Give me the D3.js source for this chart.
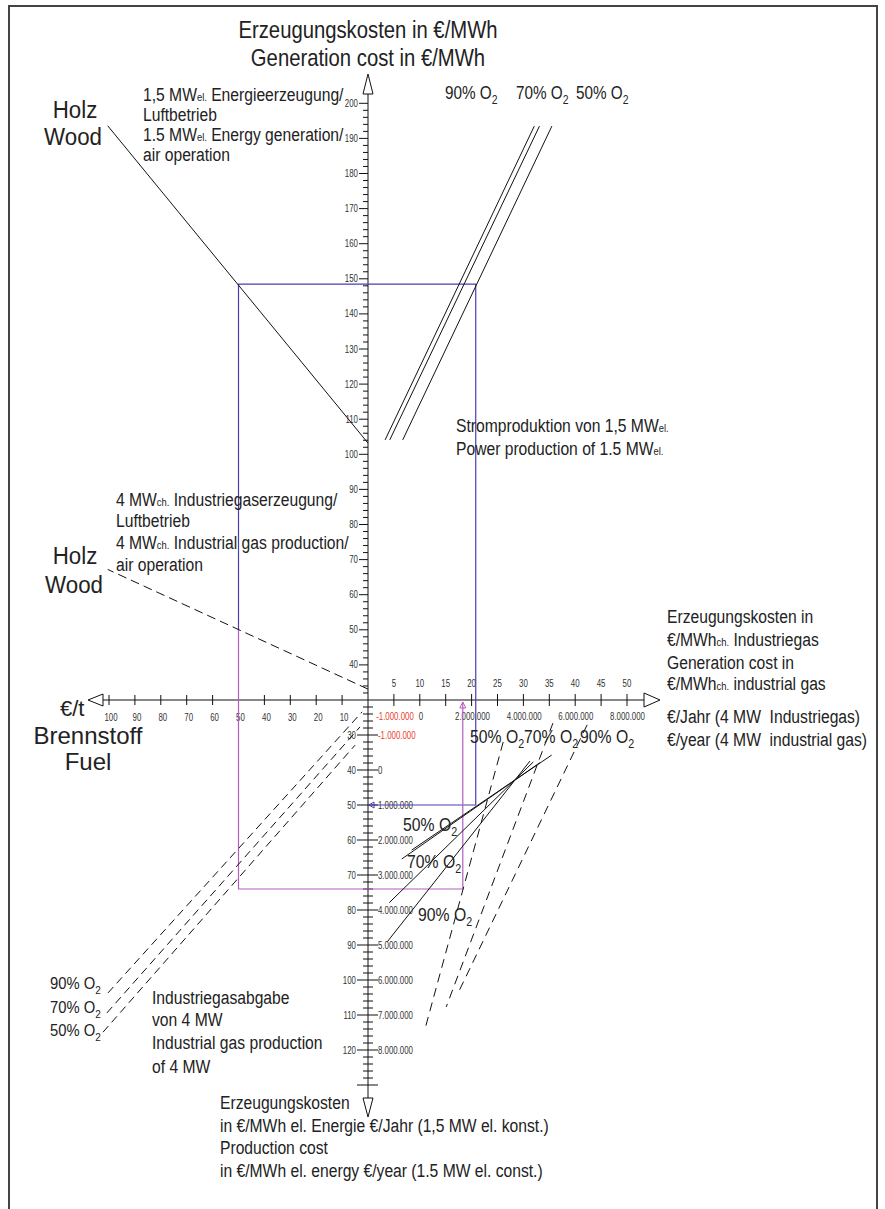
<!DOCTYPE html>
<html>
<head>
<meta charset="utf-8">
<script src="https://cdn.jsdelivr.net/npm/d3@7"></script>
<style>
body { margin: 0; background: #fff; }
svg text { fill: #222; white-space: pre; }
</style>
</head>
<body>
<div id="chart"></div>
<script>
// ---- data ----
const costUpTicks = [40, 50, 60, 70, 80, 90, 100, 110, 120, 130, 140, 150, 160, 170, 180, 190, 200];
const costDownTicks = [30, 40, 50, 60, 70, 80, 90, 100, 110, 120];
const yearElTicks = [-1000000, 0, 1000000, 2000000, 3000000, 4000000, 5000000, 6000000, 7000000, 8000000];
const fuelTicks = [10, 20, 30, 40, 50, 60, 70, 80, 90, 100];
const gasTicks = [5, 10, 15, 20, 25, 30, 35, 40, 45, 50];
const yearGasTicks = [-1000000, 0, 2000000, 4000000, 6000000, 8000000];

// wood price (€/t) -> generation cost
const woodElec = [[0, 103.2], [100.5, 193.6]];
const woodGas = [[0, 33.1], [100.5, 67.2]];
// power production 90/70/50 % O2 (upper right)
const powerLines = [
  [[3.3, 104.1], [32.1, 193.5]],
  [[4.2, 104.1], [33.1, 193.5]],
  [[6.7, 104.1], [35.5, 193.5]]
];
// industrial gas €/year, lower right (dashed)
const gasYearLines = [
  [[26.1, 32.0], [11.0, 114.0]],
  [[35.7, 26.6], [15.1, 107.7]],
  [[42.3, 27.1], [17.2, 104.3]]
];
// industrial gas cost, lower right (solid)
const gasCostLines = [
  [[8.44, 62.86], [35.46, 35.74]],
  [[6.51, 65.43], [33.2, 37.9]],
  [[4.11, 77.9], [31.9, 37.7]],
  [[3.73, 89.06], [31.27, 37.43]]
];
// industrial gas output, lower left (dashed)
const gasFuelLines = [
  [[100.4, 103.7], [2.3, 23.4]],
  [[100.8, 109.4], [3.1, 27.7]],
  [[102.3, 114.9], [5.0, 32.9]]
];
// worked example
const pickFuel = 50;
const pickCostUp = 148.5;
const pickGasUp = 50.2;
const pickPowerX = 20.8;
const pickYear = 1000000;
const pickGasDown = 74;
const pickGasX = 18.3;

// ---- setup ----
const W = 885, H = 1209;
const svg = d3.select("#chart").append("svg").attr("width", W).attr("height", H);
const sans = "'Liberation Sans', Arial, sans-serif";
const x0 = 368, y0 = 700;

const xFuel = d3.scaleLinear().domain([0, 100]).range([x0, 109]);
const xGas = d3.scaleLinear().domain([0, 50]).range([x0, 627]);
const xYear = d3.scaleLinear().domain([-1000000, 8000000]).range([395, 627.5]);
const yUp = d3.scaleLinear().domain([30, 200]).range([y0, 103.3]);
const yDown = d3.scaleLinear().domain([20, 120]).range([y0, 1050]);
const yYear = d3.scaleLinear().domain([-1000000, 8000000]).range([yDown(30), yDown(120)]);

const de = d3.formatLocale({decimal: ",", thousands: ".", grouping: [3], currency: ["", "€"], minus: "-"});
const fmtEuro = de.format(",d");

// frame
svg.append("rect").attr("x", 9).attr("y", 6).attr("width", 868).attr("height", 1240)
  .attr("fill", "none").attr("stroke", "#444").attr("stroke-width", 2);

// text with _{sub} and ^{small} parts, squeezed horizontally by sx
function richText(x, y, str, size, sx, anchor) {
  const t = svg.append("text")
    .attr("transform", `translate(${x},${y}) scale(${sx},1)`)
    .attr("font-size", size).attr("font-family", sans)
    .attr("text-anchor", anchor || "start");
  const parts = str.split(/(_\{[^}]*\}|\^\{[^}]*\})/);
  let shift = 0;
  parts.forEach(p => {
    if (!p) return;
    if (p.startsWith("_{")) {
      t.append("tspan").attr("font-size", size * 0.68).attr("dy", size * 0.28 - shift).text(p.slice(2, -1));
      shift = size * 0.28;
    } else if (p.startsWith("^{")) {
      t.append("tspan").attr("font-size", size * 0.6).attr("dy", -shift).text(p.slice(2, -1));
      shift = 0;
    } else {
      t.append("tspan").attr("dy", -shift).text(p);
      shift = 0;
    }
  });
  return t;
}

function tickLabels(data, px, py, fmt, anchor, color) {
  svg.append("g").selectAll("text").data(data).join("text")
    .attr("transform", d => `translate(${px(d)},${py(d)}) scale(0.75,1)`)
    .attr("text-anchor", anchor).attr("font-size", 10.5).attr("font-family", sans)
    .style("fill", d => color ? color(d) : "#333")
    .text(fmt);
}

const line = d3.line();

// ---- axes ----
const axes = svg.append("g").attr("stroke", "#111").attr("stroke-width", 1).attr("fill", "none");
axes.append("line").attr("x1", x0).attr("x2", x0).attr("y1", 94).attr("y2", 1098);
axes.append("line").attr("x1", 103).attr("x2", 644).attr("y1", y0).attr("y2", y0);

// arrows (open triangles)
const arrows = [
  [[x0 - 5, 94], [x0 + 5, 94], [x0, 74]],
  [[x0 - 5, 1098], [x0 + 5, 1098], [x0, 1117]],
  [[103, y0 - 6], [103, y0 + 6], [88, y0]],
  [[644, y0 - 7], [644, y0 + 7], [660, y0]]
];
axes.selectAll("path.arrow").data(arrows).join("path")
  .attr("d", d => line(d) + "Z").attr("fill", "#fff");

// upper vertical scale: ticks on the left only
const upMinor = d3.range(32, 200, 2).filter(v => v % 10 !== 0);
axes.append("g").selectAll("line").data(upMinor).join("line")
  .attr("x1", x0 - 5).attr("x2", x0).attr("y1", d => yUp(d)).attr("y2", d => yUp(d));
axes.append("g").selectAll("line").data(costUpTicks).join("line")
  .attr("x1", x0 - 9).attr("x2", x0).attr("y1", d => yUp(d)).attr("y2", d => yUp(d));
tickLabels(costUpTicks, () => x0 - 10, d => yUp(d) + 3.5, d => d, "end");

// lower vertical scale: cross ticks
const downMinor = d3.range(22, 130, 2).filter(v => v % 10 !== 0);
axes.append("g").selectAll("line").data(downMinor).join("line")
  .attr("x1", x0 - 5).attr("x2", x0 + 5).attr("y1", d => yDown(d)).attr("y2", d => yDown(d));
axes.append("g").selectAll("line").data(costDownTicks.concat([130])).join("line")
  .attr("x1", x0 - 11).attr("x2", x0 + 10).attr("y1", d => yDown(d)).attr("y2", d => yDown(d));
tickLabels(costDownTicks, () => x0 - 12, d => yDown(d) + 3.5, d => d, "end");
tickLabels(yearElTicks, () => x0 + 10, d => yYear(d) + 3.5, d => fmtEuro(d), "start",
  d => d < 0 ? "#e8412c" : "#333");

// horizontal scales
axes.append("g").selectAll("line").data(fuelTicks).join("line")
  .attr("x1", d => xFuel(d)).attr("x2", d => xFuel(d)).attr("y1", y0 - 5).attr("y2", y0 + 5);
tickLabels(fuelTicks, d => xFuel(d) + 2, () => y0 + 21, d => d, "middle");
axes.append("g").selectAll("line").data(gasTicks).join("line")
  .attr("x1", d => xGas(d)).attr("x2", d => xGas(d)).attr("y1", y0 - 6).attr("y2", y0 + 6);
tickLabels(gasTicks, d => xGas(d), () => y0 - 13, d => d, "middle");
tickLabels(yearGasTicks, d => xYear(d), () => y0 + 20, d => fmtEuro(d), "middle",
  d => d < 0 ? "#e8412c" : "#333");

// ---- construction lines ----
const blue = "#4b3fb0", magenta = "#b45ec0";
const bluePts = [
  [xFuel(pickFuel), yUp(pickGasUp)], [xFuel(pickFuel), yUp(pickCostUp)],
  [xGas(pickPowerX), yUp(pickCostUp)], [xGas(pickPowerX), yYear(pickYear)],
  [x0 + 1, yYear(pickYear)]
];
svg.append("path").attr("d", line(bluePts)).attr("fill", "none").attr("stroke", blue).attr("stroke-width", 1.2);
svg.append("path").attr("d", line([[x0 + 1, yYear(pickYear)], [x0 + 6, yYear(pickYear) - 3], [x0 + 6, yYear(pickYear) + 3]]) + "Z")
  .attr("fill", "none").attr("stroke", blue);
const magPts = [
  [xFuel(pickFuel), yUp(pickGasUp)], [xFuel(pickFuel), yDown(pickGasDown)],
  [xGas(pickGasX), yDown(pickGasDown)], [xGas(pickGasX), y0 + 2]
];
svg.append("path").attr("d", line(magPts)).attr("fill", "none").attr("stroke", magenta).attr("stroke-width", 1.2);
svg.append("path").attr("d", line([[xGas(pickGasX), y0 + 2], [xGas(pickGasX) - 3, y0 + 8], [xGas(pickGasX) + 3, y0 + 8]]) + "Z")
  .attr("fill", "none").attr("stroke", magenta);

// ---- nomogram lines ----
const lines = svg.append("g").attr("fill", "none").attr("stroke", "#111").attr("stroke-width", 1);
lines.append("path").attr("d", line(woodElec.map(d => [xFuel(d[0]), yUp(d[1])])));
lines.append("path").attr("d", line(woodGas.map(d => [xFuel(d[0]), yUp(d[1])])))
  .attr("stroke-dasharray", "9,5");
lines.append("g").selectAll("path").data(powerLines).join("path")
  .attr("d", d => line(d.map(p => [xGas(p[0]), yUp(p[1])])));
lines.append("g").selectAll("path").data(gasYearLines).join("path")
  .attr("d", d => line(d.map(p => [xGas(p[0]), yDown(p[1])])))
  .attr("stroke-dasharray", "9,6");
lines.append("g").selectAll("path").data(gasCostLines).join("path")
  .attr("d", d => line(d.map(p => [xGas(p[0]), yDown(p[1])])));
lines.append("g").selectAll("path").data(gasFuelLines).join("path")
  .attr("d", d => line(d.map(p => [xFuel(p[0]), yDown(p[1])])))
  .attr("stroke-dasharray", "8,5");

// ---- texts ----
const nx = 0.87;
richText(x0, 38, "Erzeugungskosten in €/MWh", 24, 0.845, "middle");
richText(x0, 66, "Generation cost in €/MWh", 24, 0.845, "middle");

richText(143, 101, "1,5 MW^{el.} Energieerzeugung/", 18, nx);
richText(143, 121, "Luftbetrieb", 18, nx);
richText(143, 141, "1.5 MW^{el.} Energy generation/", 18, nx);
richText(143, 161, "air operation", 18, nx);
richText(75, 118, "Holz", 24, 0.93, "middle");
richText(73, 145, "Wood", 24, 0.93, "middle");

richText(445, 99, "90% O_{2}", 18, 0.85);
richText(516, 99, "70% O_{2}", 18, 0.85);
richText(576, 99, "50% O_{2}", 18, 0.85);

richText(456, 432, "Stromproduktion von 1,5 MW^{el.}", 18, nx);
richText(456, 455, "Power production of 1.5 MW^{el.}", 18, nx);

richText(116, 506, "4 MW^{ch.} Industriegaserzeugung/", 18, nx);
richText(116, 527, "Luftbetrieb", 18, nx);
richText(116, 549, "4 MW^{ch.} Industrial gas production/", 18, nx);
richText(116, 571, "air operation", 18, nx);
richText(75, 564, "Holz", 24, 0.93, "middle");
richText(74, 593, "Wood", 24, 0.93, "middle");

richText(667, 623, "Erzeugungskosten in", 18, nx);
richText(667, 646, "€/MWh^{ch.} Industriegas", 18, nx);
richText(667, 669, "Generation cost in", 18, nx);
richText(667, 690, "€/MWh^{ch.} industrial gas", 18, nx);
richText(667, 723, "€/Jahr (4 MW  Industriegas)", 18, nx);
richText(667, 746, "€/year (4 MW  industrial gas)", 18, nx);

richText(60, 716, "€/t", 22, 1);
richText(88, 744, "Brennstoff", 24, 1, "middle");
richText(88, 770, "Fuel", 24, 1, "middle");

richText(470, 743, "50% O_{2}", 19, 0.83);
richText(524, 743, "70% O_{2}", 19, 0.83);
richText(580, 743, "90% O_{2}", 19, 0.83);

richText(403, 831, "50% O_{2}", 19, 0.83);
richText(407, 868, "70% O_{2}", 19, 0.83);
richText(418, 921, "90% O_{2}", 19, 0.83);

richText(50, 989, "90% O_{2}", 17, 0.87);
richText(50, 1013, "70% O_{2}", 17, 0.87);
richText(50, 1036, "50% O_{2}", 17, 0.87);
richText(152, 1004, "Industriegasabgabe", 18, nx);
richText(152, 1026, "von 4 MW", 18, nx);
richText(152, 1049, "Industrial gas production", 18, nx);
richText(152, 1073, "of 4 MW", 18, nx);

richText(220, 1109, "Erzeugungskosten", 18, nx);
richText(220, 1132, "in €/MWh el. Energie €/Jahr (1,5 MW el. konst.)", 18, nx);
richText(220, 1154, "Production cost", 18, nx);
richText(220, 1177, "in €/MWh el. energy €/year (1.5 MW el. const.)", 18, nx);
</script>
</body>
</html>
